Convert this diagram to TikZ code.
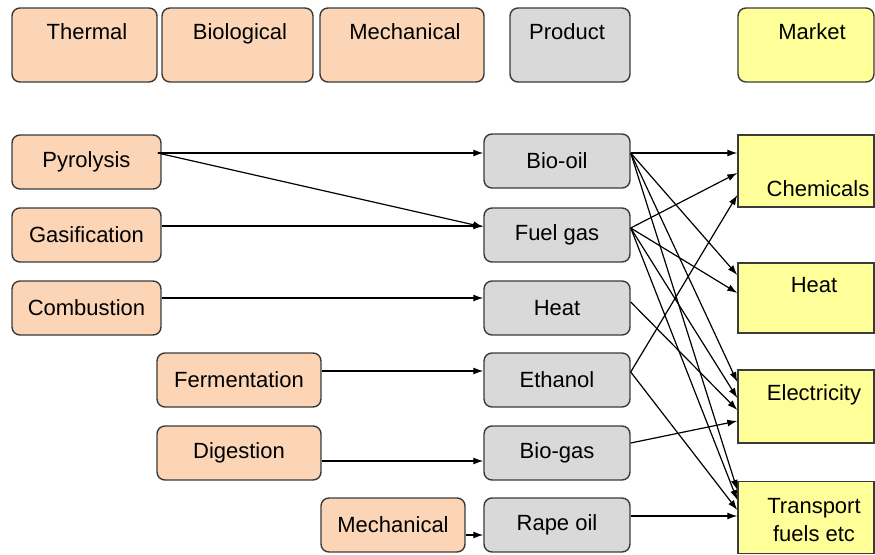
\documentclass[tikz,border=0pt]{standalone}
\usepackage{fontspec}
\setmainfont{Liberation Sans}
\usetikzlibrary{arrows.meta}
\definecolor{peach}{HTML}{FBD5B5}
\definecolor{grayfill}{HTML}{D9D9D9}
\definecolor{yel}{HTML}{FFFF99}
\definecolor{bord}{HTML}{3A3A3A}
\tikzset{
  box/.style={draw=bord, line width=1.4pt, rounded corners=8pt, inner sep=0pt, font=\fontsize{22}{26}\selectfont},
  proc/.style={box, fill=peach},
  prod/.style={box, fill=grayfill},
  mkt/.style={draw=bord, line width=1.4pt, fill=yel, inner sep=0pt},
  lab/.style={anchor=base, inner sep=0pt, font=\fontsize{22}{26}\selectfont, align=center},
  arr/.style={-{Latex[length=10pt,width=7pt]}, line width=1.2pt, black},
}
\begin{document}
\begin{tikzpicture}[x=1pt,y=-1pt]
\useasboundingbox (0,0) rectangle (875,554);
% header row
\node[proc, minimum width=145pt, minimum height=74pt] (th) at (84.5,45) {};
\node[lab] (thl) at (87,39) {Thermal};
\node[proc, minimum width=151pt, minimum height=74pt] (bi) at (237.5,45) {};
\node[lab] (bil) at (240,39) {Biological};
\node[proc, minimum width=164pt, minimum height=74pt] (me) at (402,45) {};
\node[lab] (mel) at (405,39) {Mechanical};
\node[prod, minimum width=120pt, minimum height=74pt] (pr) at (570,45) {};
\node[lab] (prl) at (567,39) {Product};
\node[box, fill=yel, minimum width=136pt, minimum height=74pt] (ma) at (806,45) {};
\node[lab] (mal) at (812,39) {Market};
% processes
\node[proc, minimum width=149pt, minimum height=54pt] (py) at (86.5,162) {Pyrolysis};
\node[proc, minimum width=149pt, minimum height=54pt] (ga) at (86.5,235) {Gasification};
\node[proc, minimum width=149pt, minimum height=54pt] (co) at (86.5,308) {Combustion};
\node[proc, minimum width=164pt, minimum height=54pt] (fe) at (239,380) {Fermentation};
\node[proc, minimum width=164pt, minimum height=54pt] (di) at (239,453) {Digestion};
\node[proc, minimum width=144pt, minimum height=54pt] (mc) at (393,525) {Mechanical};
% products
\node[prod, minimum width=146pt, minimum height=54pt] (bo) at (557,161) {Bio-oil};
\node[prod, minimum width=146pt, minimum height=54pt] (fg) at (557,235) {Fuel gas};
\node[prod, minimum width=146pt, minimum height=54pt] (he) at (557,308) {Heat};
\node[prod, minimum width=146pt, minimum height=54pt] (et) at (557,380) {Ethanol};
\node[prod, minimum width=146pt, minimum height=54pt] (bg) at (557,453) {Bio-gas};
\node[prod, minimum width=146pt, minimum height=54pt] (ro) at (557,525) {Rape oil};
% markets
\node[mkt, minimum width=136pt, minimum height=72pt] (ch) at (806,171) {};
\node[lab] (chl) at (818,196) {Chemicals};
\node[mkt, minimum width=136pt, minimum height=70pt] (ht) at (806,298) {};
\node[lab] (htl) at (814,292) {Heat};
\node[mkt, minimum width=136pt, minimum height=73pt] (el) at (806,406.5) {};
\node[lab] (ell) at (814,400) {Electricity};
\node[mkt, minimum width=136pt, minimum height=72pt] (tr) at (806,517.5) {};
\node[lab] (trl) at (814,541) {Transport\\[2pt]fuels etc};
% process -> product
\draw[arr] ([xshift=-4pt,yshift=9pt]py.east) -- ([yshift=8pt]bo.west);
\draw[arr] ([xshift=-4pt,yshift=9pt]py.east) -- ([yshift=8pt]fg.west);
\draw[arr] ([yshift=9pt]ga.east) -- ([yshift=9pt]fg.west);
\draw[arr] ([yshift=10pt]co.east) -- ([yshift=10pt]he.west);
\draw[arr] ([yshift=9pt]fe.east) -- ([yshift=9pt]et.west);
\draw[arr] ([yshift=-8pt]di.east) -- ([yshift=-8pt]bg.west);
\draw[arr] ([yshift=-10pt]mc.east) -- ([yshift=-10pt]ro.west);
% product -> market
\draw[arr] ([yshift=8pt]bo.east) -- ([yshift=18pt]ch.west);
\draw[arr] ([yshift=8pt]bo.east) -- ([yshift=23pt]ht.west);
\draw[arr] ([yshift=8pt]bo.east) -- ([yshift=24.5pt]el.west);
\draw[arr] ([yshift=8pt]bo.east) -- ([yshift=27.5pt]tr.west);
\draw[arr] ([yshift=7pt]fg.east) -- ([yshift=-2pt]ch.west);
\draw[arr] ([yshift=7pt]fg.east) -- ([yshift=5pt]ht.west);
\draw[arr] ([yshift=7pt]fg.east) -- ([yshift=8.5pt]el.west);
\draw[arr] ([yshift=7pt]fg.east) -- ([yshift=17.5pt]tr.west);
\draw[arr] ([yshift=6pt]he.east) -- ([yshift=-3.5pt]el.west);
\draw[arr] ([yshift=8pt]et.east) -- ([yshift=-24pt]ch.west);
\draw[arr] ([yshift=8pt]et.east) -- ([yshift=7.5pt]tr.west);
\draw[arr] ([yshift=10pt]bg.east) -- ([yshift=-14.5pt]el.west);
\draw[arr] ([yshift=9pt]ro.east) -- ([yshift=1.5pt]tr.west);
\end{tikzpicture}
\end{document}
